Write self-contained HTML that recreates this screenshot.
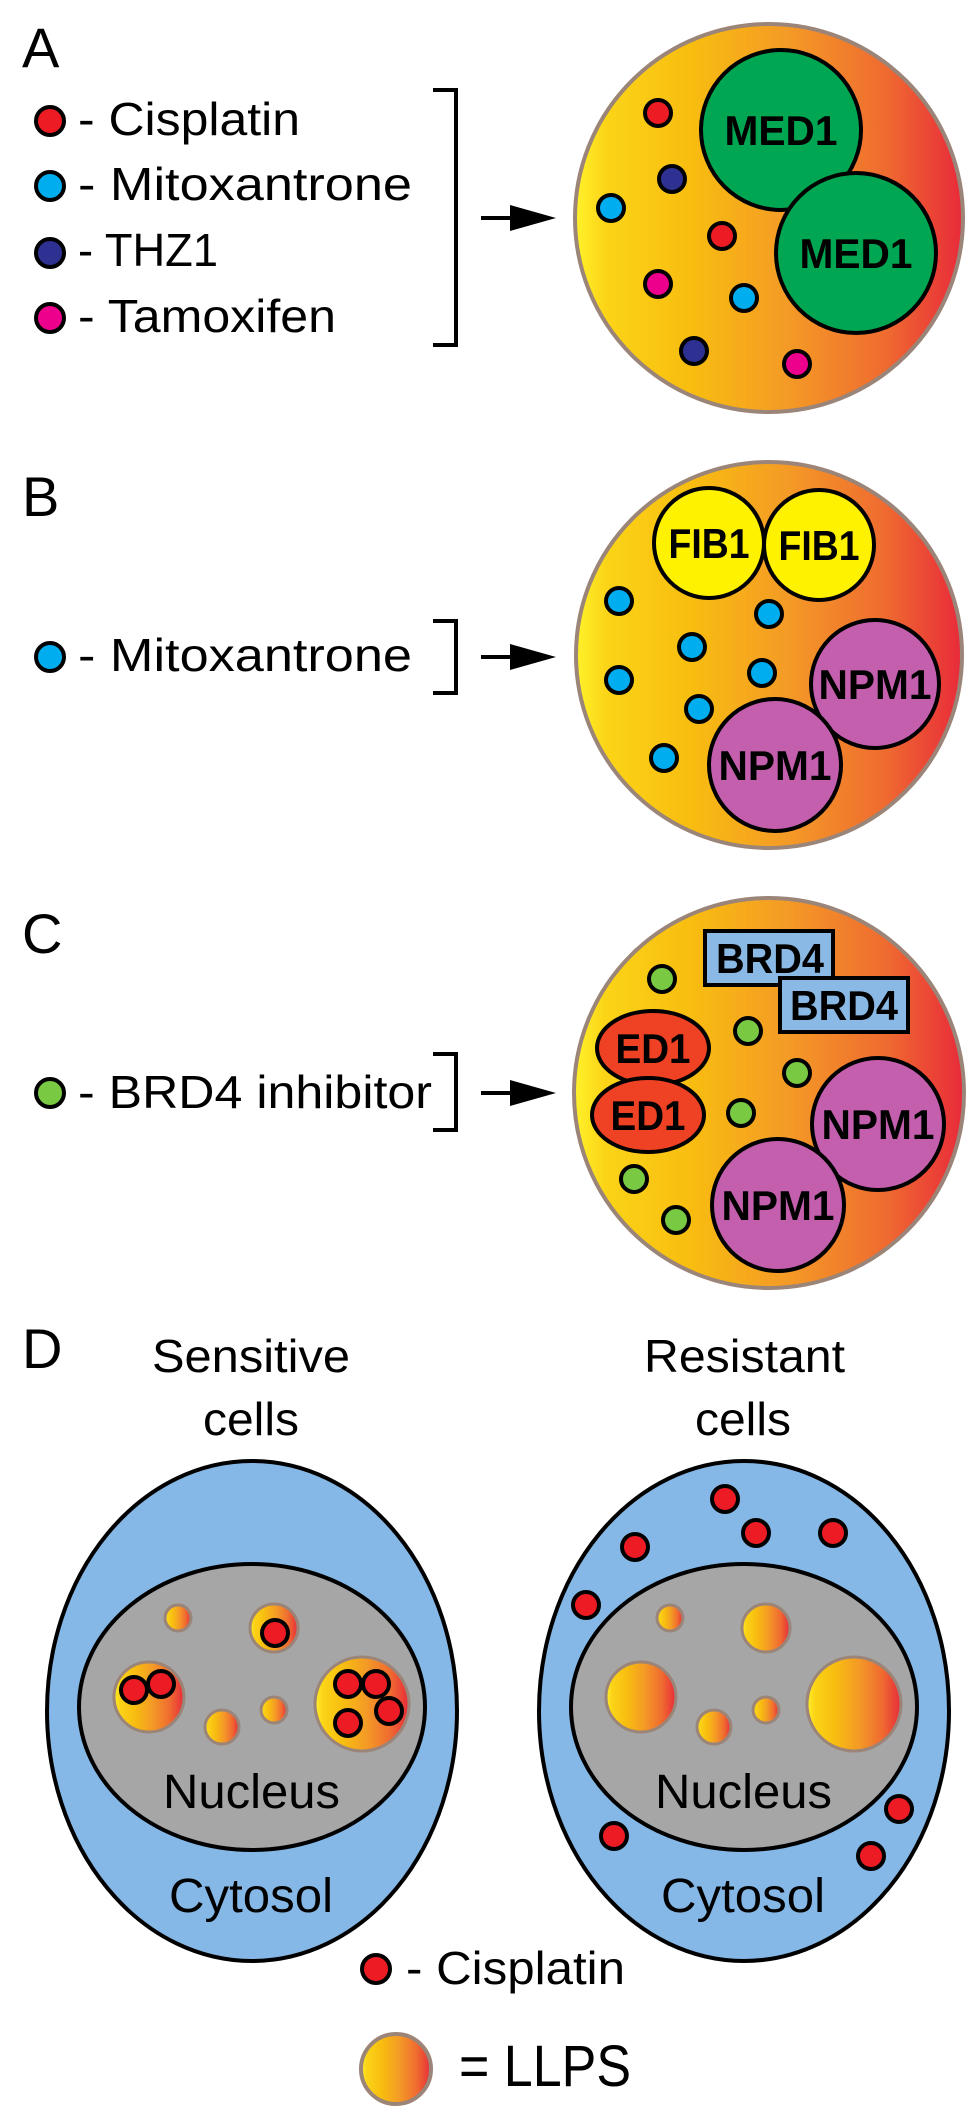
<!DOCTYPE html>
<html><head><meta charset="utf-8"><style>html,body{margin:0;padding:0;background:#fff}svg{display:block}</style></head>
<body>
<svg width="974" height="2123" viewBox="0 0 974 2123" xmlns="http://www.w3.org/2000/svg" font-family="'Liberation Sans Narrow','Liberation Sans',sans-serif">
<defs>
<linearGradient id="g" x1="0" x2="1" y1="0" y2="0">
<stop offset="0" stop-color="#fff22a"/><stop offset="0.08" stop-color="#fbd417"/><stop offset="0.3" stop-color="#f8bd10"/><stop offset="0.55" stop-color="#f49a26"/><stop offset="0.8" stop-color="#ef6b30"/><stop offset="1" stop-color="#e82a3a"/>
</linearGradient>
</defs>
<g fill="#000" font-size="56">
<text x="22" y="67">A</text><text x="22" y="516">B</text><text x="22" y="953">C</text><text x="22" y="1368">D</text>
</g>
<g stroke="#000" stroke-width="4">
<circle cx="50" cy="121" r="14" fill="#ed1c24"/>
<circle cx="50" cy="186" r="14" fill="#00aeef"/>
<circle cx="50" cy="253" r="14" fill="#2e3192"/>
<circle cx="50" cy="318" r="14" fill="#ec008c"/>
<circle cx="50" cy="657" r="14" fill="#00aeef"/>
<circle cx="50" cy="1093" r="14" fill="#7ac943"/>
</g>
<g font-size="46" fill="#000">
<text x="78" y="135" textLength="222" lengthAdjust="spacingAndGlyphs">- Cisplatin</text>
<text x="78" y="200" textLength="334" lengthAdjust="spacingAndGlyphs">- Mitoxantrone</text>
<text x="78" y="266" textLength="140" lengthAdjust="spacingAndGlyphs">- THZ1</text>
<text x="78" y="332" textLength="258" lengthAdjust="spacingAndGlyphs">- Tamoxifen</text>
<text x="78" y="671" textLength="334" lengthAdjust="spacingAndGlyphs">- Mitoxantrone</text>
<text x="78" y="1108" textLength="354" lengthAdjust="spacingAndGlyphs">- BRD4 inhibitor</text>
</g>
<g fill="none" stroke="#000" stroke-width="4">
<polyline points="433,90 456,90 456,345 433,345"/>
<polyline points="433,621 456,621 456,693 433,693"/>
<polyline points="433,1054 456,1054 456,1130 433,1130"/>
<line x1="481" y1="218" x2="520" y2="218"/>
<line x1="481" y1="657" x2="520" y2="657"/>
<line x1="481" y1="1093" x2="520" y2="1093"/>
</g>
<g fill="#000">
<polygon points="510,205 556,218 510,231"/>
<polygon points="510,644 556,657 510,670"/>
<polygon points="510,1080 556,1093 510,1106"/>
</g>
<!-- A -->
<circle cx="769" cy="218" r="194" fill="url(#g)" stroke="#9b8478" stroke-width="4"/>
<g stroke="#000" stroke-width="4">
<circle cx="658" cy="113" r="13" fill="#ed1c24"/>
<circle cx="672" cy="179" r="13" fill="#2e3192"/>
<circle cx="611" cy="208" r="13" fill="#00aeef"/>
<circle cx="722" cy="236" r="13" fill="#ed1c24"/>
<circle cx="658" cy="284" r="13" fill="#ec008c"/>
<circle cx="744" cy="298" r="13" fill="#00aeef"/>
<circle cx="694" cy="351" r="13" fill="#2e3192"/>
<circle cx="797" cy="364" r="13" fill="#ec008c"/>
<circle cx="781" cy="130" r="80" fill="#00a651"/>
<circle cx="856" cy="253" r="80" fill="#00a651"/>
</g>
<g font-weight="bold" font-size="42" fill="#000" text-anchor="middle">
<text x="781" y="145" textLength="113" lengthAdjust="spacingAndGlyphs">MED1</text>
<text x="856" y="268" textLength="113" lengthAdjust="spacingAndGlyphs">MED1</text>
</g>
<!-- B -->
<circle cx="769" cy="655" r="193" fill="url(#g)" stroke="#9b8478" stroke-width="4"/>
<g stroke="#000" stroke-width="4">
<circle cx="619" cy="601" r="13" fill="#00aeef"/>
<circle cx="769" cy="614" r="13" fill="#00aeef"/>
<circle cx="692" cy="647" r="13" fill="#00aeef"/>
<circle cx="762" cy="673" r="13" fill="#00aeef"/>
<circle cx="619" cy="680" r="13" fill="#00aeef"/>
<circle cx="699" cy="709" r="13" fill="#00aeef"/>
<circle cx="664" cy="758" r="13" fill="#00aeef"/>
<circle cx="709" cy="543" r="55" fill="#fff200"/>
<circle cx="819" cy="545" r="55" fill="#fff200"/>
<circle cx="875" cy="684" r="64" fill="#c45fae"/>
<circle cx="775" cy="765" r="66" fill="#c45fae"/>
</g>
<g font-weight="bold" font-size="42" fill="#000" text-anchor="middle">
<text x="709" y="558" textLength="81" lengthAdjust="spacingAndGlyphs">FIB1</text>
<text x="819" y="560" textLength="81" lengthAdjust="spacingAndGlyphs">FIB1</text>
<text x="875" y="699" textLength="113" lengthAdjust="spacingAndGlyphs">NPM1</text>
<text x="775" y="780" textLength="113" lengthAdjust="spacingAndGlyphs">NPM1</text>
</g>
<!-- C -->
<circle cx="769" cy="1093" r="195" fill="url(#g)" stroke="#9b8478" stroke-width="4"/>
<g stroke="#000" stroke-width="4">
<circle cx="662" cy="979" r="13" fill="#7ac943"/>
<circle cx="748" cy="1031" r="13" fill="#7ac943"/>
<circle cx="797" cy="1073" r="13" fill="#7ac943"/>
<circle cx="741" cy="1113" r="13" fill="#7ac943"/>
<circle cx="634" cy="1179" r="13" fill="#7ac943"/>
<circle cx="676" cy="1220" r="13" fill="#7ac943"/>
<rect x="705" y="931" width="128" height="54" fill="#8ab9e5"/>
<rect x="780" y="978" width="128" height="54" fill="#8ab9e5"/>
<ellipse cx="653" cy="1048" rx="56" ry="37" fill="#ef4123"/>
<ellipse cx="648" cy="1115" rx="56" ry="37" fill="#ef4123"/>
<circle cx="878" cy="1124" r="66" fill="#c45fae"/>
<circle cx="778" cy="1205" r="66" fill="#c45fae"/>
</g>
<g font-weight="bold" font-size="42" fill="#000" text-anchor="middle">
<text x="770" y="973" textLength="108" lengthAdjust="spacingAndGlyphs">BRD4</text>
<text x="844" y="1020" textLength="108" lengthAdjust="spacingAndGlyphs">BRD4</text>
<text x="653" y="1063" textLength="75" lengthAdjust="spacingAndGlyphs">ED1</text>
<text x="648" y="1130" textLength="75" lengthAdjust="spacingAndGlyphs">ED1</text>
<text x="878" y="1139" textLength="113" lengthAdjust="spacingAndGlyphs">NPM1</text>
<text x="778" y="1220" textLength="113" lengthAdjust="spacingAndGlyphs">NPM1</text>
</g>
<!-- D -->
<g font-size="46" fill="#000">
<text x="152" y="1372" textLength="198" lengthAdjust="spacingAndGlyphs">Sensitive</text>
<text x="203" y="1435" textLength="96" lengthAdjust="spacingAndGlyphs">cells</text>
<text x="644" y="1372" textLength="201" lengthAdjust="spacingAndGlyphs">Resistant</text>
<text x="695" y="1435" textLength="96" lengthAdjust="spacingAndGlyphs">cells</text>
</g>
<g id="cellL">
<ellipse cx="252" cy="1711" rx="205" ry="250" fill="#85b8e6" stroke="#000" stroke-width="4"/>
<ellipse cx="252" cy="1707" rx="173" ry="143" fill="#a6a6a6" stroke="#000" stroke-width="4"/>
<g fill="url(#g)" stroke="#9b8478" stroke-width="3">
<circle cx="178" cy="1618" r="13"/>
<circle cx="274" cy="1628" r="24"/>
<circle cx="149" cy="1697" r="35"/>
<circle cx="222" cy="1727" r="17"/>
<circle cx="274" cy="1710" r="13"/>
<circle cx="362" cy="1704" r="47"/>
</g>
<text x="163" y="1808" font-size="48" textLength="177" lengthAdjust="spacingAndGlyphs">Nucleus</text>
<text x="169" y="1912" font-size="48" textLength="164" lengthAdjust="spacingAndGlyphs">Cytosol</text>
</g>
<use href="#cellL" x="492"/>
<g fill="#ed1c24" stroke="#000" stroke-width="4">
<circle cx="275" cy="1633" r="13"/>
<circle cx="134" cy="1690" r="13"/>
<circle cx="161" cy="1684" r="13"/>
<circle cx="348" cy="1684" r="13"/>
<circle cx="376" cy="1684" r="13"/>
<circle cx="389" cy="1711" r="13"/>
<circle cx="348" cy="1723" r="13"/>
<circle cx="725" cy="1499" r="13"/>
<circle cx="756" cy="1533" r="13"/>
<circle cx="833" cy="1533" r="13"/>
<circle cx="635" cy="1547" r="13"/>
<circle cx="586" cy="1605" r="13"/>
<circle cx="614" cy="1836" r="13"/>
<circle cx="899" cy="1809" r="13"/>
<circle cx="871" cy="1856" r="13"/>
<circle cx="376" cy="1969" r="14"/>
</g>
<text x="406" y="1984" font-size="46" textLength="219" lengthAdjust="spacingAndGlyphs">- Cisplatin</text>
<circle cx="396" cy="2069" r="35" fill="url(#g)" stroke="#9b8478" stroke-width="4"/>
<text x="459" y="2086" font-size="58" textLength="172" lengthAdjust="spacingAndGlyphs">= LLPS</text>
</svg>
</body></html>
